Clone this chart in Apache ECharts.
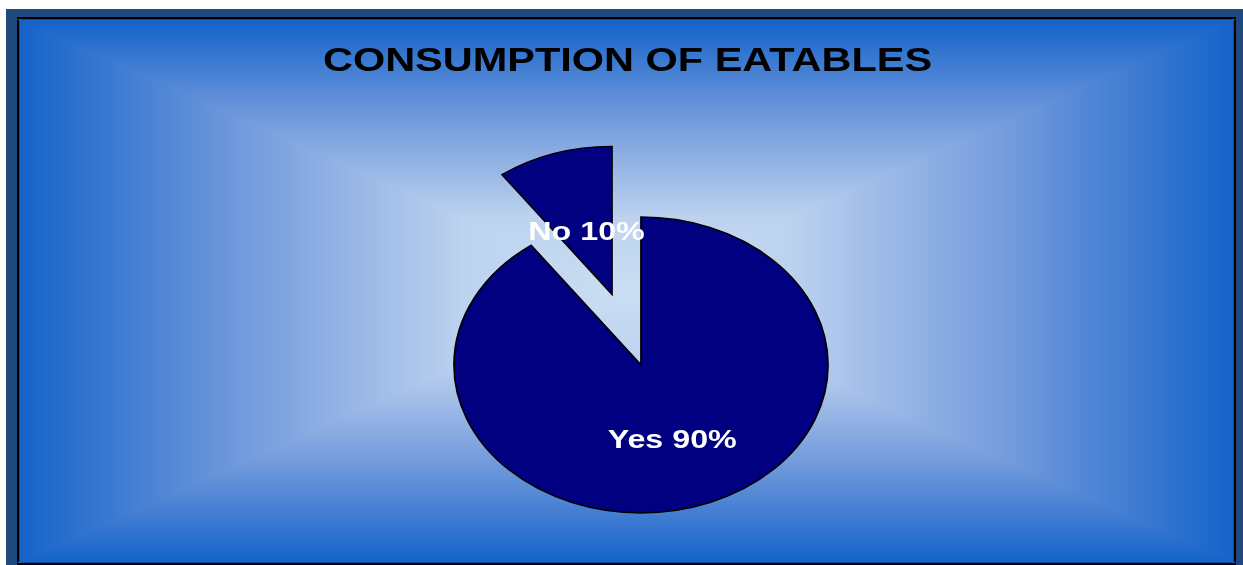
<!DOCTYPE html>
<html>
<head>
<meta charset="utf-8">
<script src="https://cdn.jsdelivr.net/npm/echarts@6/dist/echarts.min.js"></script>
<style>
  html, body { margin: 0; padding: 0; background: #fff; }
  #chart { width: 1243px; height: 565px; }
</style>
</head>
<body>
<div id="chart"></div>
<script>
const categories = ['Yes', 'No'];
const values = [90, 10];
const titleText = 'CONSUMPTION OF EATABLES';

const total = values.reduce((a, b) => a + b, 0);

// inner plot box
const X0 = 20, Y0 = 20, X1 = 1233, Y1 = 562;
const CX = (X0 + X1) / 2, CY = (Y0 + Y1) / 2;
// the original is stretched sideways, text too
const STRETCH = 1.24;

function grad(x1, y1, x2, y2) {
  return new echarts.graphic.LinearGradient(x1, y1, x2, y2, [
    { offset: 0, color: '#1463c9' },
    { offset: 0.36, color: '#7199dc' },
    { offset: 0.73, color: '#bcd2ef' },
    { offset: 1, color: '#cadef3' }
  ], true);
}

function tri(points, x1, y1, x2, y2) {
  const g = grad(x1, y1, x2, y2);
  return {
    type: 'polygon',
    shape: { points: points },
    style: { fill: g, stroke: g, lineWidth: 1.5 },
    z: -10
  };
}

const chart = echarts.init(document.getElementById('chart'));

// pie geometry
const PIE_X = 641, PIE_Y = 365, R = 187, SQUASH = 0.791;
const EXPLODE = 94;

chart.setOption({
  animation: false,
  graphic: [
    { type: 'rect', shape: { x: 6, y: 9, width: 1237, height: 556 }, style: { fill: '#1f497d' }, z: -20 },
    { type: 'rect', shape: { x: X0 - 3, y: Y0 - 3, width: X1 - X0 + 6, height: Y1 - Y0 + 6 }, style: { fill: '#000' }, z: -15 },
    tri([[X0, Y0], [X0, Y1], [CX, CY]], X0, 0, CX, 0),
    tri([[X1, Y0], [X1, Y1], [CX, CY]], X1, 0, CX, 0),
    tri([[X0, Y0], [X1, Y0], [CX, CY]], 0, Y0, 0, CY),
    tri([[X0, Y1], [X1, Y1], [CX, CY]], 0, Y1, 0, CY),
    {
      type: 'text',
      x: 627.5, y: 62,
      scaleX: 1.22,
      style: {
        text: titleText,
        fill: '#000',
        font: 'bold 34px "Liberation Sans", Arial, sans-serif',
        align: 'center',
        verticalAlign: 'middle'
      },
      z: 5
    }
  ],
  series: [{
    type: 'custom',
    coordinateSystem: 'none',
    data: values.map((v, i) => ({ name: categories[i], value: v })),
    renderItem: function (params, api) {
      const i = params.dataIndex;
      let before = 0;
      for (let k = 0; k < i; k++) before += values[k];
      const a0 = -Math.PI / 2 + before / total * Math.PI * 2;
      const a1 = a0 + api.value(0) / total * Math.PI * 2;
      const mid = (a0 + a1) / 2;
      const off = categories[i] === 'No' ? EXPLODE : 0;
      const cx = PIE_X + off * Math.cos(mid);
      const cy = PIE_Y + off * Math.sin(mid) * SQUASH;
      const lr = (categories[i] === 'No' ? 0.44 : 0.54) * R;
      const pct = Math.round(api.value(0) / total * 100);
      return {
        type: 'group',
        children: [{
          type: 'group',
          x: cx, y: cy, scaleY: SQUASH,
          children: [{
            type: 'sector',
            shape: { cx: 0, cy: 0, r0: 0, r: R, startAngle: a0, endAngle: a1, clockwise: true },
            style: { fill: '#000080', stroke: '#000', lineWidth: 1.8 }
          }]
        }, {
          type: 'text',
          x: cx + lr * Math.cos(mid),
          y: cy + lr * Math.sin(mid) * SQUASH,
          scaleX: STRETCH,
          style: {
            text: categories[i] + ' ' + pct + '%',
            fill: '#fff',
            font: 'bold 26px "Liberation Sans", Arial, sans-serif',
            align: 'center',
            verticalAlign: 'middle'
          },
          z2: 10
        }]
      };
    }
  }]
});
</script>
</body>
</html>
